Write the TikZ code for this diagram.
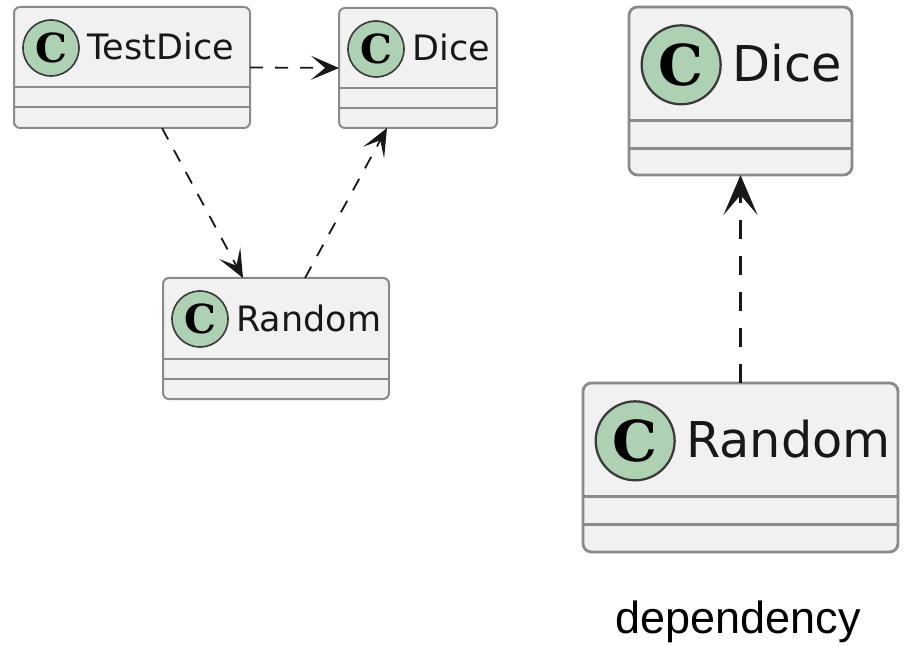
\documentclass[tikz,border=0pt]{standalone}
\usepackage{fontspec}
\newfontfamily\namefont{DejaVu Sans}
\newfontfamily\notefont{Liberation Sans}
\newfontfamily\spotfont{DejaVu Serif}
\usetikzlibrary{arrows.meta}

\definecolor{boxfill}{HTML}{F1F1F1}
\definecolor{boxline}{HTML}{8A8A8A}
\definecolor{spotfill}{HTML}{ADD1B2}
\definecolor{spotline}{HTML}{3A3A3A}
\definecolor{ink}{HTML}{181818}

\tikzset{
  classbox/.style={draw=boxline, fill=boxfill, line width={1pt*\umlk},
    rounded corners={3pt*\umlk}, anchor=north west, inner sep=0pt, outer sep=0pt},
  sepline/.style={draw=boxline, line width={1pt*\umlk}},
  spot/.style={circle, draw=spotline, fill=spotfill, line width={0.8pt*\umlk},
    inner sep=0pt, text=black, font=\spotfont\bfseries},
  dep/.style={draw=ink, line width=0.9pt, dash pattern=on 6.5pt off 6pt,
    -{Stealth[length=14pt, width=12pt, inset=7pt]}},
  bigdep/.style={draw=ink, line width=1.25pt, dash pattern=on 9.5pt off 8.5pt,
    -{Stealth[length=20pt, width=17pt, inset=10pt]}},
}

% class box: name, left, top, width, height (px), label; \umlk = scale
\newcommand{\umlk}{1}
\newcommand{\umlclass}[6]{%
  \pgfmathsetmacro{\namesize}{17.5*\umlk}%
  \pgfmathsetmacro{\spotsize}{20*\umlk}%
  \node[classbox, minimum width={#4*0.5pt}, minimum height={#5*0.5pt}] (#1) at (#2,#3) {};
  \draw[sepline] (#2,{#3+80.5*\umlk}) -- ({#2+#4},{#3+80.5*\umlk});
  \draw[sepline] (#2,{#3+100.5*\umlk}) -- ({#2+#4},{#3+100.5*\umlk});
  \node[spot, minimum size={28pt*\umlk}] (#1-spot) at ({#2+37*\umlk},{#3+41*\umlk})
    {\fontsize{\spotsize pt}{\spotsize pt}\selectfont C};
  \node[anchor=base west, inner sep=0pt, text=ink] (#1-name) at ({#2+73*\umlk},{#3+53*\umlk})
    {\fontsize{\namesize pt}{\namesize pt}\namefont #6};
}

\begin{document}
\begin{tikzpicture}[x=0.5pt, y=-0.5pt]
\useasboundingbox (0,0) rectangle (903,646);

% left: three classes
\umlclass{testdice}{14}{7}{236}{121}{TestDice}
\umlclass{dice}{339}{8}{158}{120}{Dice}
\umlclass{random}{163}{278}{226}{121}{Random}

\draw[dep] (testdice.east) -- (dice.west);
\draw[dep] ([xshift=15pt]testdice.south) -- ([xshift=-16.5pt]random.north);
\draw[dep] ([xshift=14.5pt]random.north) -- ([xshift=-15.5pt]dice.south);

% right: dependency
\renewcommand{\umlk}{1.41}
\umlclass{bigdice}{629}{7}{223}{168}{Dice}
\umlclass{bigrandom}{583}{383}{315}{169}{Random}

\draw[bigdep] (bigrandom.north) -- (bigdice.south);

\node[anchor=base, inner sep=0pt, font=\notefont\fontsize{22.5pt}{22.5pt}\selectfont]
  (caption) at (738,633) {dependency};
\end{tikzpicture}
\end{document}
